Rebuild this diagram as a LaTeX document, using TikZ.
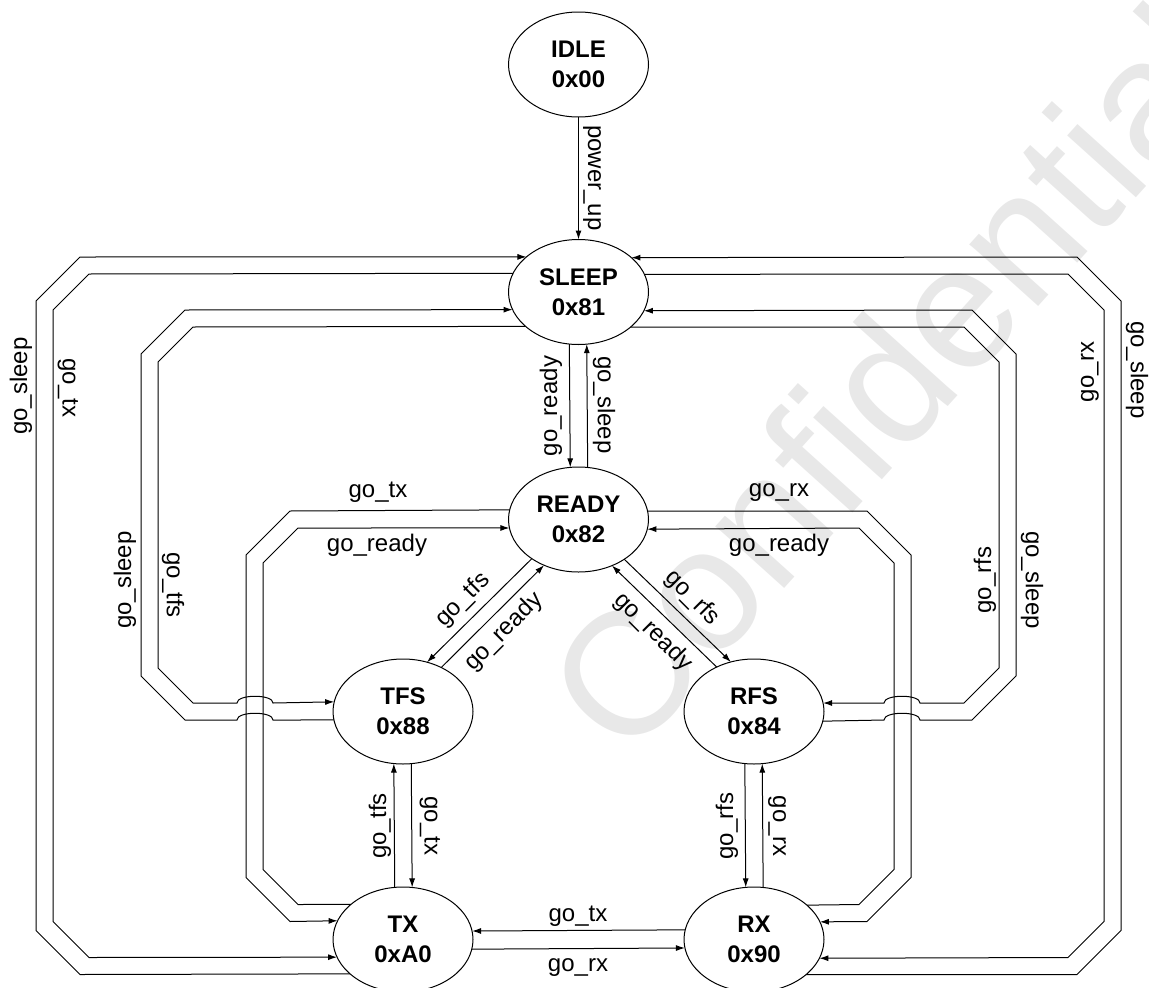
\documentclass[tikz,border=0pt]{standalone}
\usepackage{fontspec}
\setmainfont{Liberation Sans}
\usetikzlibrary{arrows.meta,shapes.geometric}
\begin{document}
\begin{tikzpicture}[x=1pt,y=-1pt,
  state/.style={draw, ellipse, minimum width=140pt, minimum height=105pt, inner sep=0pt, outer sep=0pt, align=center, font=\fontsize{24}{30}\selectfont\bfseries, line width=1pt},
  arr/.style={-{Latex[length=9pt,width=6pt]}, line width=1pt},
  lab/.style={font=\fontsize{24}{29}\selectfont, inner sep=0pt},
  wmark/.style={font=\fontsize{175}{175}\selectfont, text=black!9, inner sep=0pt}]
\useasboundingbox (0,0) rectangle (1149,988);
% watermark
\node[wmark, rotate=48] (wm) at (890,378) {Confidential};
% states
\node[state] (IDLE)  at (578.5,64.5)  {IDLE\\0x00};
\node[state] (SLEEP) at (578.5,292)   {SLEEP\\0x81};
\node[state] (READY) at (578.5,519.5) {READY\\0x82};
\node[state] (TFS)   at (403,711.5)   {TFS\\0x88};
\node[state] (RFS)   at (754,711.5)   {RFS\\0x84};
\node[state] (TX)    at (403,939.5)   {TX\\0xA0};
\node[state] (RX)    at (754,939.5)   {RX\\0x90};
% vertical / direct transitions
\draw[arr] (IDLE.south) -- (SLEEP.north);
\draw[arr] (SLEEP.260.74) -- (READY.99.26);
\draw[arr] (READY.80.74) -- (SLEEP.279.26);
\draw[arr] (TX.99.26) -- (TFS.260.74);
\draw[arr] (TFS.279.26) -- (TX.80.74);
\draw[arr] (RFS.260.74) -- (RX.99.26);
\draw[arr] (RX.80.74) -- (RFS.279.26);
\draw[arr] (RX.172.99) -- (TX.7.01);
\draw[arr] (TX.352.99) -- (RX.187.01);
\draw[arr] (READY.220.2) -- (TFS.64.1);
\draw[arr] (TFS.49.4) -- (READY.233.2);
\draw[arr] (READY.319.8) -- (RFS.115.9);
\draw[arr] (RFS.130.6) -- (READY.306.8);
% left loops
\draw[arr] (TX.213.85) -- (80,974.5) -- (36,930.5) -- (36,301) -- (80,257) -- (SLEEP.146.15);
\draw[arr] (SLEEP.164.69) -- (89,274) -- (53,310) -- (53,921.5) -- (89,957.5) -- (TX.195.31);
\draw[arr] (TFS.187.01) -- (273,720) .. controls (273,711) and (237,711) .. (237,720) -- (185,720) -- (141,676) -- (141,354) -- (185,310) -- (SLEEP.195.31);
\draw[arr] (SLEEP.213.85) -- (193,327) -- (158,362) -- (158,668) -- (193,703) -- (237,703) .. controls (237,694) and (273,694) .. (273,703) -- (TFS.172.99);
\draw[arr] (READY.172.99) -- (290,511) -- (246,555) -- (246,877.5) -- (290,921.5) -- (TX.164.69);
\draw[arr] (TX.146.15) -- (298,904.5) -- (263,869.5) -- (263,563) -- (298,528) -- (READY.187.01);
% right loops
\draw[arr] (RX.326.15) -- (1077,974.5) -- (1121,930.5) -- (1121,301) -- (1077,257) -- (SLEEP.33.85);
\draw[arr] (SLEEP.15.31) -- (1068,274) -- (1104,310) -- (1104,921.5) -- (1068,957.5) -- (RX.344.69);
\draw[arr] (RFS.352.99) -- (884,720) .. controls (884,711) and (920,711) .. (920,720) -- (972,720) -- (1016,676) -- (1016,354) -- (972,310) -- (SLEEP.344.69);
\draw[arr] (SLEEP.326.15) -- (964,327) -- (999,362) -- (999,668) -- (964,703) -- (920,703) .. controls (920,694) and (884,694) .. (884,703) -- (RFS.7.01);
\draw[arr] (READY.7.01) -- (867,511) -- (911,555) -- (911,877.5) -- (867,921.5) -- (RX.15.31);
\draw[arr] (RX.33.85) -- (859,904.5) -- (894,869.5) -- (894,563) -- (859,528) -- (READY.352.99);
% labels
\node[lab,rotate=-90] (t1)  at (592,178) {power\_up};
\node[lab,rotate=90]  (t2)  at (551,406) {go\_ready};
\node[lab,rotate=-90] (t3)  at (604,405) {go\_sleep};
\node[lab,rotate=90]  (t4)  at (21,386)  {go\_sleep};
\node[lab,rotate=-90] (t5)  at (68,388)  {go\_tx};
\node[lab,rotate=90]  (t6)  at (125,580) {go\_sleep};
\node[lab,rotate=-90] (t7)  at (173,585) {go\_tfs};
\node[lab]            (t8)  at (378,492) {go\_tx};
\node[lab]            (t9)  at (377,545) {go\_ready};
\node[lab,rotate=45]  (t10) at (463,600) {go\_tfs};
\node[lab,rotate=45]  (t11) at (504,632) {go\_ready};
\node[lab,rotate=-45] (t12) at (692,598) {go\_rfs};
\node[lab,rotate=-45] (t13) at (653,632) {go\_ready};
\node[lab]            (t14) at (779,493) {go\_rx};
\node[lab]            (t15) at (779,545) {go\_ready};
\node[lab,rotate=90]  (t16) at (985,580) {go\_rfs};
\node[lab,rotate=-90] (t17) at (1032,580) {go\_sleep};
\node[lab,rotate=90]  (t18) at (1090,372) {go\_rx};
\node[lab,rotate=-90] (t19) at (1137,370) {go\_sleep};
\node[lab,rotate=90]  (t20) at (380,826) {go\_tfs};
\node[lab,rotate=-90] (t21) at (430,826) {go\_tx};
\node[lab,rotate=90]  (t22) at (727,826) {go\_rfs};
\node[lab,rotate=-90] (t23) at (777,826) {go\_rx};
\node[lab]            (t24) at (578,916) {go\_tx};
\node[lab]            (t25) at (578,968) {go\_rx};
\end{tikzpicture}
\end{document}
